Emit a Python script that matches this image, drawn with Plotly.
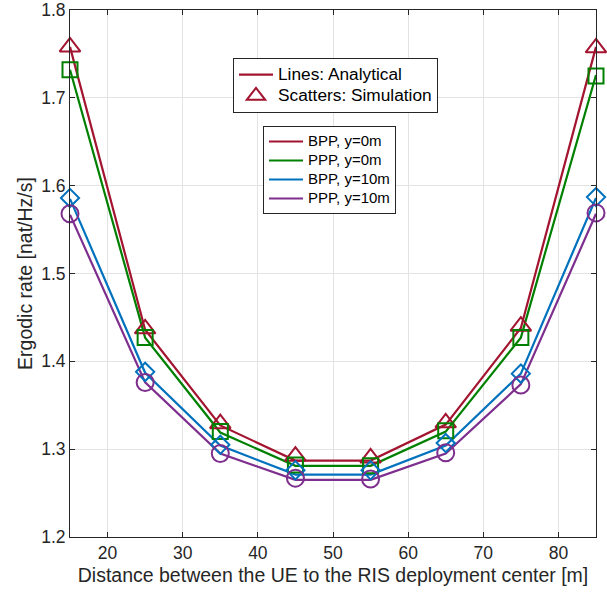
import plotly.graph_objects as go

distance = [15, 25, 35, 45, 55, 65, 75, 85]

# Analytical (lines)
bpp_y0_ana = [1.758, 1.436, 1.327, 1.287, 1.287, 1.328, 1.438, 1.758]
ppp_y0_ana = [1.732, 1.427, 1.319, 1.281, 1.281, 1.320, 1.427, 1.726]
bpp_y10_ana = [1.585, 1.387, 1.304, 1.271, 1.271, 1.304, 1.386, 1.586]
ppp_y10_ana = [1.567, 1.376, 1.295, 1.265, 1.265, 1.295, 1.374, 1.568]

# Simulation (markers)
bpp_y0_sim = [1.758, 1.437, 1.329, 1.292, 1.290, 1.330, 1.440, 1.757]
ppp_y0_sim = [1.732, 1.427, 1.320, 1.282, 1.281, 1.321, 1.427, 1.725]
bpp_y10_sim = [1.586, 1.388, 1.305, 1.276, 1.276, 1.307, 1.386, 1.587]
ppp_y10_sim = [1.568, 1.376, 1.295, 1.267, 1.266, 1.296, 1.373, 1.569]

names = ["BPP, y=0m", "PPP, y=0m", "BPP, y=10m", "PPP, y=10m"]
colors = ["#A2142F", "#008000", "#0072BD", "#7E2F8E"]
symbols = ["triangle-up-open", "square-open", "diamond-open", "circle-open"]
msizes = [18, 15, 14, 17]

x_ticks = [20, 30, 40, 50, 60, 70, 80]
y_ticks = [1.2, 1.3, 1.4, 1.5, 1.6, 1.7, 1.8]

ana = [bpp_y0_ana, ppp_y0_ana, bpp_y10_ana, ppp_y10_ana]
sim = [bpp_y0_sim, ppp_y0_sim, bpp_y10_sim, ppp_y10_sim]

FONT = "Liberation Sans, Arial, Helvetica"


def big(txt, px):
    return f"<span style='font-size:{px}px'>{txt}</span>"


fig = go.Figure()

for i in range(4):
    fig.add_trace(go.Scatter(
        x=distance, y=ana[i], mode="lines", name=big(names[i], 15),
        line=dict(color=colors[i], width=2.2), legend="legend2",
        cliponaxis=False))
for i in range(4):
    fig.add_trace(go.Scatter(
        x=distance, y=sim[i], mode="markers", showlegend=False,
        marker=dict(symbol=symbols[i], size=msizes[i], color=colors[i],
                    line=dict(width=2, color=colors[i])),
        cliponaxis=False))

# Legend 1 entries
fig.add_trace(go.Scatter(
    x=[None], y=[None], mode="lines", name=big("Lines: Analytical", 17.3),
    line=dict(color=colors[0], width=2.2), legend="legend"))
fig.add_trace(go.Scatter(
    x=[None], y=[None], mode="markers", name=big("Scatters: Simulation", 17.3),
    marker=dict(symbol="triangle-up-open", size=18, color=colors[0],
                line=dict(width=2, color=colors[0])), legend="legend"))

axis_common = dict(
    showgrid=True, gridcolor="#e3e3e3", gridwidth=1,
    ticks="inside", ticklen=5, tickcolor="#262626", tickwidth=1,
    showline=True, linecolor="#262626", linewidth=1, mirror="ticks",
    zeroline=False, automargin=False,
    tickfont=dict(family=FONT, size=17.5, color="#262626"),
)

fig.update_layout(
    width=607, height=595,
    margin=dict(l=70, r=11, t=10, b=58),
    plot_bgcolor="white", paper_bgcolor="white",
    xaxis=dict(range=[15, 85], tickvals=x_ticks,
               title=dict(text="Distance between the UE to the RIS deployment center [m]",
                          font=dict(family=FONT, size=19.5, color="#262626"),
                          standoff=6),
               **axis_common),
    yaxis=dict(range=[1.2, 1.8], tickvals=y_ticks, tickformat=".1f",
               title=dict(text="Ergodic rate [nat/Hz/s]",
                          font=dict(family=FONT, size=19.5, color="#262626"),
                          standoff=3),
               **axis_common),
    legend=dict(x=(233 - 70) / 526, y=1 - (58 - 10) / 527, xanchor="left", yanchor="top",
                bgcolor="white", bordercolor="#262626", borderwidth=1,
                font=dict(family=FONT, size=14, color="#000000"),
                tracegroupgap=0, itemwidth=34),
    legend2=dict(x=(263 - 70) / 526, y=1 - (126 - 10) / 527, xanchor="left", yanchor="top",
                 bgcolor="white", bordercolor="#262626", borderwidth=1,
                 font=dict(family=FONT, size=12, color="#000000"),
                 tracegroupgap=0, itemwidth=34),
)

fig.write_html("out.html", post_script="document.body.style.margin='0';",
               config={"displayModeBar": False})
